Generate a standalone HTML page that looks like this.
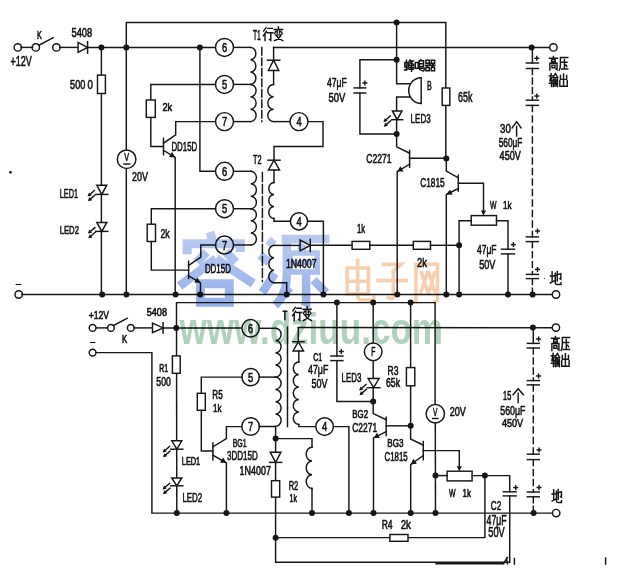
<!DOCTYPE html>
<html><head><meta charset="utf-8"><style>
html,body{margin:0;padding:0;background:#fff;}
svg{display:block;}
.c path,.c circle,.c rect{stroke:#161616;stroke-width:1.45;fill:none;stroke-linecap:square;}
.c .f{fill:#161616;stroke:none;}
.c .w{fill:#fff;}
.c text{font-family:"Liberation Sans",sans-serif;font-weight:normal;fill:#111;stroke:#111;stroke-width:0.6px;}
</style></head><body>
<svg width="621" height="578" viewBox="0 0 621 578">
<defs><linearGradient id="gb" gradientUnits="userSpaceOnUse" x1="0" y1="0" x2="0" y2="10"><stop offset="0" stop-color="#bccdf2"/><stop offset="1" stop-color="#93afe8"/></linearGradient></defs>
<rect width="621" height="578" fill="#fff"/>
<g class="c">
<circle cx="17.8" cy="47.4" r="3.7" class="w"/>
<circle cx="35.8" cy="47.4" r="3.7" class="w"/>
<circle cx="56.4" cy="47.4" r="3.7" class="w"/>
<path d="M21.0,47.4 L32.6,47.4"/>
<path d="M39.4,44.9 L53.2,37.7"/>
<path d="M59.6,47.4 L79.0,47.4"/>
<path d="M78.1,42.4 L78.1,52.4 L87.6,47.4 Z" class="w"/>
<path d="M87.6,41.6 L87.6,53.2"/>
<path d="M87.5,47.4 L215.5,47.4"/>
<circle cx="101.4" cy="47.4" r="3.0" class="f"/>
<circle cx="126.3" cy="47.4" r="3.0" class="f"/>
<circle cx="199.9" cy="47.4" r="3.0" class="f"/>
<path d="M126.3,294.5 L126.3,22.5 L445.8,22.5 L445.8,158.4"/>
<circle cx="396.6" cy="22.5" r="3.0" class="f"/>
<path d="M101.4,47.4 L101.4,294.5"/>
<rect x="97.5" y="75.1" width="7.9" height="18.4" class="w"/>
<path d="M96.8,185.2 L106.8,185.2 L101.8,194.4 Z" class="w"/>
<path d="M95.8,194.4 L107.8,194.4"/>
<path d="M96.8,222.4 L106.8,222.4 L101.8,231.4 Z" class="w"/>
<path d="M95.8,231.4 L107.8,231.4"/>
<path d="M94.4,190.5 L89.0,195.2" stroke-width="1.3"/>
<path d="M87.5,196.5 L89.0,192.4 L91.7,195.6 Z" class="f"/>
<path d="M94.8,195.2 L89.4,199.9" stroke-width="1.3"/>
<path d="M87.9,201.2 L89.4,197.1 L92.1,200.3 Z" class="f"/>
<path d="M94.8,227.6 L89.4,232.3" stroke-width="1.3"/>
<path d="M87.9,233.6 L89.4,229.5 L92.1,232.7 Z" class="f"/>
<path d="M95.2,232.3 L89.8,237.0" stroke-width="1.3"/>
<path d="M88.3,238.3 L89.8,234.2 L92.5,237.4 Z" class="f"/>
<circle cx="126.6" cy="159.2" r="9.3" class="w"/>
<text x="124.2" y="161.2" font-size="11.03" textLength="4.8" lengthAdjust="spacingAndGlyphs" class="t">V</text>
<path d="M124.1,164.0 L129.6,164.0" stroke-width="1.3"/>
<path d="M215.5,84.4 L150.8,84.4 L150.8,146.4 L163.3,146.4"/>
<rect x="146.3" y="100.0" width="9.0" height="17.4" class="w"/>
<path d="M163.5,138.4 L163.5,154.8" stroke-width="2.0"/>
<path d="M163.5,143.2 L175.7,134.8 L175.7,121.6 L215.5,121.6"/>
<path d="M163.5,150.3 L175.2,157.4 L175.2,294.5"/>
<path d="M175.2,157.4 L168.9,157.1 L172.1,152.0 Z" class="f"/>
<path d="M199.9,47.4 L199.9,171.3 L215.5,171.3"/>
<path d="M233.5,47.4 L250.5,47.4"/>
<path d="M233.5,84.4 L250.5,84.4"/>
<path d="M233.5,121.6 L250.5,121.6"/>
<circle cx="224.5" cy="47.4" r="9" class="w"/>
<text x="221.9" y="52.0" font-size="13.53" textLength="5.2" lengthAdjust="spacingAndGlyphs" class="t">6</text>
<circle cx="224.5" cy="84.4" r="9" class="w"/>
<text x="221.9" y="89.0" font-size="13.53" textLength="5.2" lengthAdjust="spacingAndGlyphs" class="t">5</text>
<circle cx="224.5" cy="121.6" r="9" class="w"/>
<text x="221.9" y="126.2" font-size="13.53" textLength="5.2" lengthAdjust="spacingAndGlyphs" class="t">7</text>
<path d="M250.5,47.4 a5.6,6.17 0 0 1 0,12.33 a5.6,6.17 0 0 1 0,12.33 a5.6,6.17 0 0 1 0,12.33"/>
<path d="M250.5,84.4 a5.6,6.20 0 0 1 0,12.40 a5.6,6.20 0 0 1 0,12.40 a5.6,6.20 0 0 1 0,12.40"/>
<path d="M261.8,47.5 V121.6" stroke-dasharray="7.5,3" stroke-linecap="butt"/>
<path d="M273.6,47.4 L550.2,47.4"/>
<path d="M273.6,47.4 L273.6,60.5"/>
<path d="M268.4,70.4 L278.8,70.4 L273.6,60.2 Z" class="w"/>
<path d="M267.4,60.2 L279.8,60.2"/>
<path d="M273.6,70.4 L273.6,84.4"/>
<path d="M273.6,84.4 a5.8,6.20 0 0 0 0,12.40 a5.8,6.20 0 0 0 0,12.40 a5.8,6.20 0 0 0 0,12.40"/>
<path d="M273.6,121.6 L290.0,121.6"/>
<circle cx="299.0" cy="121.6" r="9" class="w"/>
<text x="296.4" y="126.2" font-size="13.53" textLength="5.2" lengthAdjust="spacingAndGlyphs" class="t">4</text>
<path d="M308.0,121.6 L323.0,121.6 L323.0,146.5 L274.0,146.5 L274.0,160.2"/>
<circle cx="531.6" cy="47.4" r="3.0" class="f"/>
<circle cx="553.4" cy="47.4" r="3.7" class="w"/>
<path d="M268.5,170.0 L279.5,170.0 L274.0,160.2 Z" class="w"/>
<path d="M268.0,160.2 L280.0,160.2"/>
<path d="M274.0,170.0 L274.0,182.5"/>
<path d="M274.0,182.5 a5.2,6.00 0 0 0 0,12.00 a5.2,6.00 0 0 0 0,12.00 a5.2,6.00 0 0 0 0,12.00"/>
<path d="M274.0,218.5 L274.0,221.3 L290.5,221.3"/>
<circle cx="299.0" cy="221.3" r="8.6" class="w"/>
<text x="296.4" y="225.9" font-size="13.53" textLength="5.2" lengthAdjust="spacingAndGlyphs" class="t">4</text>
<path d="M307.6,221.3 L323.4,221.3 L323.4,294.5"/>
<path d="M233.5,171.3 L250.8,171.3"/>
<path d="M233.5,208.7 L250.8,208.7"/>
<path d="M233.5,245.0 L250.8,245.0"/>
<circle cx="224.5" cy="171.3" r="9" class="w"/>
<text x="221.9" y="175.9" font-size="13.53" textLength="5.2" lengthAdjust="spacingAndGlyphs" class="t">6</text>
<circle cx="224.5" cy="208.7" r="9" class="w"/>
<text x="221.9" y="213.3" font-size="13.53" textLength="5.2" lengthAdjust="spacingAndGlyphs" class="t">5</text>
<circle cx="224.5" cy="245.0" r="9" class="w"/>
<text x="221.9" y="249.6" font-size="13.53" textLength="5.2" lengthAdjust="spacingAndGlyphs" class="t">7</text>
<path d="M250.8,171.3 a5.6,6.23 0 0 1 0,12.47 a5.6,6.23 0 0 1 0,12.47 a5.6,6.23 0 0 1 0,12.47"/>
<path d="M250.8,208.7 a5.6,6.05 0 0 1 0,12.10 a5.6,6.05 0 0 1 0,12.10 a5.6,6.05 0 0 1 0,12.10"/>
<path d="M262.4,172.4 V281.6" stroke-dasharray="9,3" stroke-linecap="butt"/>
<path d="M215.5,208.7 L151.3,208.7 L151.3,270.1 L188.6,270.1"/>
<rect x="147.2" y="224.2" width="8.3" height="17.3" class="w"/>
<path d="M188.6,261.3 L188.6,278.4" stroke-width="2.0"/>
<path d="M188.6,265.4 L200.8,257.1 L200.8,245.0 L215.5,245.0"/>
<path d="M188.6,275.8 L200.5,282.8 L200.5,294.5"/>
<path d="M200.5,282.8 L194.2,282.6 L197.3,277.4 Z" class="f"/>
<path d="M274.0,245.4 L300.4,245.4"/>
<path d="M274.0,245.4 a5.4,6.22 0 0 0 0,12.43 a5.4,6.22 0 0 0 0,12.43 a5.4,6.22 0 0 0 0,12.43"/>
<path d="M274.0,282.7 L286.7,282.7 L286.7,294.5"/>
<path d="M300.1,240.0 L300.1,250.8 L310.3,245.4 Z" class="w"/>
<path d="M310.3,239.4 L310.3,251.4"/>
<path d="M310.3,245.3 L352.1,245.3"/>
<rect x="352.1" y="241.4" width="17.7" height="7.9" class="w"/>
<path d="M369.8,245.3 L413.3,245.3"/>
<rect x="413.3" y="241.4" width="17.2" height="7.9" class="w"/>
<path d="M430.5,245.3 L459.1,245.3"/>
<circle cx="459.1" cy="245.3" r="3.0" class="f"/>
<path d="M396.6,22.5 L396.6,83.7 L410.5,83.7"/>
<circle cx="396.6" cy="59.8" r="3.0" class="f"/>
<path d="M396.6,59.8 L359.9,59.8 L359.9,87.9"/>
<path d="M354.1,87.9 L365.7,87.9" stroke-width="1.7"/>
<path d="M354.1,93.0 L365.7,93.0" stroke-width="1.7"/>
<path d="M363.1,83.0 L366.7,83.0" stroke-width="1"/>
<path d="M364.9,81.2 L364.9,84.8" stroke-width="1"/>
<path d="M359.9,93.0 L359.9,134.0 L396.6,134.0"/>
<path d="M421.2,77.8 A12.5,12.8 0 0 0 421.2,103.4 Z" class="w"/>
<path d="M410.2,96.9 L396.6,96.9 L396.6,110.9"/>
<path d="M392.4,110.9 L402.0,110.9 L397.2,119.7 Z" class="w"/>
<path d="M391.7,119.7 L402.7,119.7"/>
<path d="M390.3,116.0 L384.9,120.7" stroke-width="1.3"/>
<path d="M383.4,122.0 L384.9,117.9 L387.6,121.1 Z" class="f"/>
<path d="M390.7,120.7 L385.3,125.4" stroke-width="1.3"/>
<path d="M383.8,126.7 L385.3,122.6 L388.0,125.8 Z" class="f"/>
<path d="M396.6,119.9 L396.6,146.8 L409.6,153.2"/>
<circle cx="396.6" cy="134.0" r="3.0" class="f"/>
<path d="M409.6,150.4 L409.6,167.2" stroke-width="2.0"/>
<path d="M409.6,158.3 L446.3,158.3"/>
<path d="M409.6,164.2 L397.2,171.6 L397.2,294.5"/>
<path d="M397.2,171.6 L400.4,166.2 L403.5,171.4 Z" class="f"/>
<circle cx="446.3" cy="158.4" r="3.0" class="f"/>
<rect x="442.2" y="88.0" width="7.6" height="17.4" class="w"/>
<path d="M446.3,158.4 L446.3,171.1 L458.3,177.8"/>
<path d="M458.3,175.2 L458.3,191.1" stroke-width="2.0"/>
<path d="M458.3,183.3 L483.5,183.3 L483.5,212.0"/>
<path d="M483.5,215.6 L480.9,210.6 L486.1,210.6 Z" class="f"/>
<path d="M458.3,188.5 L446.3,194.5 L446.3,294.5"/>
<path d="M446.3,194.5 L449.9,189.4 L452.6,194.7 Z" class="f"/>
<rect x="471.2" y="215.6" width="25.3" height="9.6" class="w"/>
<path d="M471.2,220.8 L459.1,220.8 L459.1,294.5"/>
<path d="M496.5,220.8 L508.0,220.8 L508.0,249.2"/>
<path d="M501.5,249.2 L514.5,249.2" stroke-width="1.7"/>
<path d="M501.5,253.9 L514.5,253.9" stroke-width="1.7"/>
<path d="M511.6,244.6 L515.2,244.6" stroke-width="1"/>
<path d="M513.4,242.8 L513.4,246.4" stroke-width="1"/>
<path d="M508.0,253.9 L508.0,294.5"/>
<circle cx="18.7" cy="294.5" r="3.7" class="w"/>
<path d="M21.9,294.5 L552.8,294.5"/>
<circle cx="556.0" cy="294.5" r="3.7" class="w"/>
<circle cx="102.2" cy="294.5" r="3.0" class="f"/>
<circle cx="126.4" cy="294.5" r="3.0" class="f"/>
<circle cx="175.6" cy="294.5" r="3.0" class="f"/>
<circle cx="200.2" cy="294.5" r="3.0" class="f"/>
<circle cx="286.7" cy="294.5" r="3.0" class="f"/>
<circle cx="323.4" cy="294.5" r="3.0" class="f"/>
<circle cx="397.3" cy="294.5" r="3.0" class="f"/>
<circle cx="446.3" cy="294.5" r="3.0" class="f"/>
<circle cx="459.1" cy="294.5" r="3.0" class="f"/>
<circle cx="508.0" cy="294.5" r="3.0" class="f"/>
<circle cx="532.6" cy="294.5" r="3.0" class="f"/>
<path d="M532.4,47.4 L532.4,63.0"/>
<path d="M526.4,63.0 L538.4,63.0" stroke-width="1.7"/>
<path d="M526.4,68.5 L538.4,68.5" stroke-width="1.7"/>
<path d="M535.0,58.3 L538.6,58.3" stroke-width="1"/>
<path d="M536.8,56.5 L536.8,60.1" stroke-width="1"/>
<path d="M532.4,68.5 V100.2" stroke-dasharray="6,3.5" stroke-linecap="butt"/>
<path d="M526.4,100.2 L538.4,100.2" stroke-width="1.7"/>
<path d="M526.4,105.4 L538.4,105.4" stroke-width="1.7"/>
<path d="M535.0,96.0 L538.6,96.0" stroke-width="1"/>
<path d="M536.8,94.2 L536.8,97.8" stroke-width="1"/>
<path d="M532.4,105.4 V236.9" stroke-dasharray="6,4.5" stroke-linecap="butt"/>
<path d="M526.4,236.9 L538.4,236.9" stroke-width="1.7"/>
<path d="M526.4,241.6 L538.4,241.6" stroke-width="1.7"/>
<path d="M535.7,231.0 L539.3,231.0" stroke-width="1"/>
<path d="M537.5,229.2 L537.5,232.8" stroke-width="1"/>
<path d="M532.4,241.6 V274.4" stroke-dasharray="6,4" stroke-linecap="butt"/>
<path d="M526.4,274.4 L538.4,274.4" stroke-width="1.7"/>
<path d="M526.4,278.6 L538.4,278.6" stroke-width="1.7"/>
<path d="M535.7,269.4 L539.3,269.4" stroke-width="1"/>
<path d="M537.5,267.6 L537.5,271.2" stroke-width="1"/>
<path d="M532.4,278.6 V294.5" stroke-dasharray="6,3.5" stroke-linecap="butt"/>
<circle cx="92.6" cy="327.9" r="3.4" class="w"/>
<circle cx="110.9" cy="327.9" r="3.4" class="w"/>
<circle cx="130.8" cy="327.9" r="3.4" class="w"/>
<path d="M96.0,327.9 L107.5,327.9"/>
<path d="M113.6,325.4 L127.3,318.2"/>
<path d="M134.2,327.9 L152.5,327.9"/>
<path d="M152.5,323.2 L152.5,332.6 L163.1,327.9 Z" class="w"/>
<path d="M163.1,322.7 L163.1,333.1"/>
<path d="M163.1,327.9 L241.8,327.9"/>
<circle cx="176.3" cy="327.9" r="3.0" class="f"/>
<circle cx="92.6" cy="352.6" r="3.4" class="w"/>
<path d="M96.0,352.6 L151.9,352.6 L151.9,513.1 L552.9,513.1"/>
<circle cx="556.2" cy="513.1" r="3.7" class="w"/>
<path d="M176.5,327.9 L176.5,302.6 L435.1,302.6 L435.1,404.5"/>
<circle cx="336.9" cy="302.6" r="3.0" class="f"/>
<circle cx="373.2" cy="302.6" r="3.0" class="f"/>
<circle cx="410.6" cy="302.6" r="3.0" class="f"/>
<path d="M176.5,327.9 L176.8,513.1"/>
<rect x="172.4" y="355.9" width="7.8" height="17.4" class="w"/>
<path d="M171.8,440.8 L181.8,440.8 L176.8,449.2 Z" class="w"/>
<path d="M170.8,449.2 L182.8,449.2"/>
<path d="M171.8,477.9 L181.8,477.9 L176.8,485.8 Z" class="w"/>
<path d="M170.8,485.8 L182.8,485.8"/>
<path d="M169.5,446.5 L164.1,451.2" stroke-width="1.3"/>
<path d="M162.6,452.5 L164.1,448.4 L166.8,451.6 Z" class="f"/>
<path d="M169.9,451.2 L164.5,455.9" stroke-width="1.3"/>
<path d="M163.0,457.2 L164.5,453.1 L167.2,456.3 Z" class="f"/>
<path d="M169.5,483.5 L164.1,488.2" stroke-width="1.3"/>
<path d="M162.6,489.5 L164.1,485.4 L166.8,488.6 Z" class="f"/>
<path d="M169.9,488.2 L164.5,492.9" stroke-width="1.3"/>
<path d="M163.0,494.2 L164.5,490.1 L167.2,493.3 Z" class="f"/>
<circle cx="250.6" cy="328.3" r="8.7" class="w"/>
<text x="248.0" y="332.9" font-size="13.53" textLength="5.2" lengthAdjust="spacingAndGlyphs" class="t">6</text>
<circle cx="250.6" cy="377.1" r="8.7" class="w"/>
<text x="248.0" y="381.7" font-size="13.53" textLength="5.2" lengthAdjust="spacingAndGlyphs" class="t">5</text>
<circle cx="250.6" cy="426.5" r="8.8" class="w"/>
<text x="248.0" y="431.1" font-size="13.53" textLength="5.2" lengthAdjust="spacingAndGlyphs" class="t">7</text>
<path d="M259.3,328.3 L275.5,328.3"/>
<path d="M259.3,377.1 L275.5,377.1"/>
<path d="M275.5,328.3 a5.6,6.10 0 0 1 0,12.20 a5.6,6.10 0 0 1 0,12.20 a5.6,6.10 0 0 1 0,12.20 a5.6,6.10 0 0 1 0,12.20"/>
<path d="M275.5,377.1 a5.6,6.16 0 0 1 0,12.32 a5.6,6.16 0 0 1 0,12.32 a5.6,6.16 0 0 1 0,12.32 a5.6,6.16 0 0 1 0,12.32"/>
<path d="M287.5,327.0 L287.5,426.6" stroke-width="1.2"/>
<path d="M298.3,327.5 L552.4,327.7"/>
<path d="M298.3,327.9 L298.3,341.7"/>
<path d="M293.1,350.9 L303.5,350.9 L298.3,341.7 Z" class="w"/>
<path d="M292.5,341.7 L304.1,341.7"/>
<path d="M298.8,350.9 L298.8,362.0"/>
<path d="M298.8,362.0 a5.5,6.24 0 0 0 0,12.48 a5.5,6.24 0 0 0 0,12.48 a5.5,6.24 0 0 0 0,12.48 a5.5,6.24 0 0 0 0,12.48 a5.5,6.24 0 0 0 0,12.48"/>
<path d="M298.8,424.4 L298.8,426.6 L315.8,426.6"/>
<circle cx="324.6" cy="426.6" r="8.8" class="w"/>
<text x="322.0" y="431.2" font-size="13.53" textLength="5.2" lengthAdjust="spacingAndGlyphs" class="t">4</text>
<path d="M333.4,426.6 L348.9,426.6 L348.9,513.1"/>
<circle cx="532.9" cy="327.6" r="3.0" class="f"/>
<circle cx="555.9" cy="327.6" r="3.7" class="w"/>
<path d="M241.9,377.1 L201.3,377.1 L201.3,450.9 L212.8,450.9"/>
<rect x="197.3" y="393.3" width="8.0" height="17.0" class="w"/>
<path d="M212.9,442.9 L212.9,459.7" stroke-width="2.0"/>
<path d="M212.9,446.8 L226.4,438.7 L226.4,426.6 L241.8,426.6"/>
<path d="M212.9,455.2 L226.4,462.8 L226.4,513.1"/>
<path d="M226.4,462.8 L220.1,462.7 L223.1,457.5 Z" class="f"/>
<path d="M259.4,426.5 L275.6,426.5 L275.6,562.2 L509.7,562.2 L509.7,495.9"/>
<circle cx="275.6" cy="438.6" r="3.0" class="f"/>
<path d="M270.3,452.3 L280.9,452.3 L275.6,462.4 Z" class="w"/>
<path d="M269.6,462.4 L281.6,462.4"/>
<rect x="271.5" y="480.7" width="8.2" height="16.4" class="w"/>
<circle cx="275.6" cy="537.8" r="3.0" class="f"/>
<path d="M275.6,438.6 L312.0,438.6 L312.0,447.3"/>
<path d="M312.0,447.3 a5.8,6.85 0 0 0 0,13.70 a5.8,6.85 0 0 0 0,13.70 a5.8,6.85 0 0 0 0,13.70"/>
<path d="M312.0,488.4 L312.0,513.1"/>
<path d="M275.6,537.6 L484.9,537.6 L484.9,475.6"/>
<rect x="389.9" y="534.5" width="18.1" height="6.8" class="w"/>
<path d="M336.9,302.6 L336.9,356.0"/>
<path d="M330.9,356.0 L342.9,356.0" stroke-width="1.7"/>
<path d="M330.9,360.6 L342.9,360.6" stroke-width="1.7"/>
<path d="M339.5,351.5 L343.1,351.5" stroke-width="1"/>
<path d="M341.3,349.7 L341.3,353.3" stroke-width="1"/>
<path d="M336.9,360.6 L336.9,401.5 L373.2,401.5"/>
<path d="M373.2,302.6 L373.2,343.0"/>
<circle cx="373.2" cy="351.8" r="8.8" class="w"/>
<text x="371.2" y="356.0" font-size="12.35" textLength="4.2" lengthAdjust="spacingAndGlyphs" class="t">F</text>
<path d="M373.2,360.6 L373.2,378.5"/>
<path d="M368.1,378.5 L379.1,378.5 L373.6,387.7 Z" class="w"/>
<path d="M367.3,387.7 L379.9,387.7"/>
<path d="M366.0,384.5 L360.6,389.2" stroke-width="1.3"/>
<path d="M359.1,390.5 L360.6,386.4 L363.3,389.6 Z" class="f"/>
<path d="M366.4,389.2 L361.0,393.9" stroke-width="1.3"/>
<path d="M359.5,395.2 L361.0,391.1 L363.7,394.3 Z" class="f"/>
<path d="M373.2,387.7 L373.2,413.6 L386.2,419.7"/>
<circle cx="373.2" cy="401.5" r="3.0" class="f"/>
<path d="M386.2,417.3 L386.2,435.5" stroke-width="2.0"/>
<path d="M386.2,425.8 L410.7,425.8"/>
<path d="M386.2,431.6 L373.5,437.9 L373.5,513.1"/>
<path d="M373.5,437.9 L377.1,432.8 L379.8,438.1 Z" class="f"/>
<path d="M410.6,302.6 L410.6,439.0 L423.3,445.2"/>
<rect x="406.4" y="367.6" width="8.4" height="18.2" class="w"/>
<circle cx="410.7" cy="425.8" r="3.0" class="f"/>
<path d="M423.3,441.5 L423.3,459.7" stroke-width="2.0"/>
<path d="M423.3,450.6 L459.3,450.6 L459.3,467.0"/>
<path d="M459.3,471.2 L456.7,466.2 L461.9,466.2 Z" class="f"/>
<path d="M423.3,455.4 L410.7,464.5 L410.7,513.1"/>
<path d="M410.7,464.5 L413.4,458.8 L416.9,463.7 Z" class="f"/>
<circle cx="435.3" cy="413.7" r="9.2" class="w"/>
<text x="432.9" y="415.8" font-size="11.32" textLength="4.4" lengthAdjust="spacingAndGlyphs" class="t">V</text>
<path d="M432.6,418.5 L437.9,418.5" stroke-width="1.3"/>
<path d="M435.3,422.9 L435.5,513.1"/>
<circle cx="435.5" cy="475.6" r="3.0" class="f"/>
<rect x="447.1" y="471.2" width="25.0" height="9.7" class="w"/>
<path d="M435.5,475.6 L447.1,475.6"/>
<path d="M472.1,475.6 L509.7,475.6 L509.7,491.8"/>
<circle cx="484.9" cy="475.6" r="3.0" class="f"/>
<path d="M503.3,491.8 L516.1,491.8" stroke-width="1.7"/>
<path d="M503.3,495.9 L516.1,495.9" stroke-width="1.7"/>
<path d="M513.9,487.6 L517.5,487.6" stroke-width="1"/>
<path d="M515.7,485.8 L515.7,489.4" stroke-width="1"/>
<circle cx="176.8" cy="513.1" r="3.0" class="f"/>
<circle cx="226.4" cy="513.1" r="3.0" class="f"/>
<circle cx="312.0" cy="513.1" r="3.0" class="f"/>
<circle cx="348.9" cy="513.1" r="3.0" class="f"/>
<circle cx="373.5" cy="513.1" r="3.0" class="f"/>
<circle cx="410.7" cy="513.1" r="3.0" class="f"/>
<circle cx="435.5" cy="513.1" r="3.0" class="f"/>
<circle cx="533.6" cy="513.1" r="3.0" class="f"/>
<path d="M533.3,327.6 L533.3,343.4"/>
<path d="M527.3,343.4 L539.3,343.4" stroke-width="1.7"/>
<path d="M527.3,348.0 L539.3,348.0" stroke-width="1.7"/>
<path d="M536.8,339.0 L540.4,339.0" stroke-width="1"/>
<path d="M538.6,337.2 L538.6,340.8" stroke-width="1"/>
<path d="M533.3,348 V380.6" stroke-dasharray="6,4" stroke-linecap="butt"/>
<path d="M527.3,380.6 L539.3,380.6" stroke-width="1.7"/>
<path d="M527.3,384.9 L539.3,384.9" stroke-width="1.7"/>
<path d="M536.8,376.0 L540.4,376.0" stroke-width="1"/>
<path d="M538.6,374.2 L538.6,377.8" stroke-width="1"/>
<path d="M533.3,384.9 V454.2" stroke-dasharray="6,4.5" stroke-linecap="butt"/>
<path d="M527.3,454.2 L539.3,454.2" stroke-width="1.7"/>
<path d="M527.3,459.6 L539.3,459.6" stroke-width="1.7"/>
<path d="M537.2,449.9 L540.8,449.9" stroke-width="1"/>
<path d="M539.0,448.1 L539.0,451.7" stroke-width="1"/>
<path d="M533.3,459.6 V492" stroke-dasharray="6,4" stroke-linecap="butt"/>
<path d="M527.3,492.0 L539.3,492.0" stroke-width="1.7"/>
<path d="M527.3,496.8 L539.3,496.8" stroke-width="1.7"/>
<path d="M537.2,487.5 L540.8,487.5" stroke-width="1"/>
<path d="M539.0,485.7 L539.0,489.3" stroke-width="1"/>
<path d="M533.3,496.8 V513.1" stroke-dasharray="6,3.5" stroke-linecap="butt"/>
<path d="M436,563.8 H504" stroke="#2a3050" stroke-width="2.6" stroke-dasharray="3.2,1.4" stroke-linecap="butt"/>
<path d="M503.5,563.5 L507.5,557.5 M506.5,558 L507.5,564" stroke-width="1.4"/>
<path d="M514.4,558.5 V564" stroke-width="1"/>
<circle cx="10.5" cy="172.3" r="0.7" fill="#888" stroke="none"/>
<path d="M605.6,558 V564" stroke="#aaa" stroke-width="1"/>
<text x="37.1" y="38.6" font-size="10.59" textLength="4.8" lengthAdjust="spacingAndGlyphs" class="t">K</text>
<text x="71.5" y="36.5" font-size="11.91" textLength="20.7" lengthAdjust="spacingAndGlyphs" class="t">5408</text>
<text x="10.4" y="66.3" font-size="13.97" textLength="21.4" lengthAdjust="spacingAndGlyphs" class="t">+12V</text>
<text x="70.1" y="89.2" font-size="12.79" textLength="15.2" lengthAdjust="spacingAndGlyphs" class="t">500</text>
<text x="87.5" y="89.2" font-size="12.79" textLength="5.4" lengthAdjust="spacingAndGlyphs" class="t">0</text>
<text x="132.1" y="180.6" font-size="13.24" textLength="15.9" lengthAdjust="spacingAndGlyphs" class="t">20V</text>
<text x="59.7" y="197.6" font-size="13.09" textLength="18.3" lengthAdjust="spacingAndGlyphs" class="t">LED1</text>
<text x="59.7" y="234.0" font-size="11.76" textLength="19.3" lengthAdjust="spacingAndGlyphs" class="t">LED2</text>
<text x="162.5" y="110.5" font-size="10.74" textLength="9.7" lengthAdjust="spacingAndGlyphs" class="t">2k</text>
<text x="171.4" y="151.2" font-size="13.24" textLength="25.8" lengthAdjust="spacingAndGlyphs" class="t">DD15D</text>
<text x="253.0" y="39.5" font-size="13.97" textLength="7.8" lengthAdjust="spacingAndGlyphs" class="t">T1</text>
<path d="M3.2,0.5 L0.8,3 M3.6,3.2 L0.5,6.5 M2.2,5 V10 M5,1 H9.5 M4.5,4.2 H10 M8,4.2 V9.8 L6.8,9.2" transform="translate(262.8,27.0) scale(1.000,1.360)" vector-effect="non-scaling-stroke" stroke-width="1.7"/>
<path d="M5,0 V1.5 M0.8,1.8 H9.2 M3.8,1.8 V4.5 M6.2,1.8 V4.5 M2.3,3.3 L1.2,4.8 M7.7,3.3 L8.8,4.8 M2.2,5.8 H7.8 Q5.5,9 1,10 M3.2,6.6 Q5.5,9 9.4,10" transform="translate(273.4,27.0) scale(1.000,1.360)" vector-effect="non-scaling-stroke" stroke-width="1.7"/>
<text x="253.0" y="164.2" font-size="12.06" textLength="8.5" lengthAdjust="spacingAndGlyphs" class="t">T2</text>
<text x="160.5" y="237.6" font-size="13.68" textLength="9.2" lengthAdjust="spacingAndGlyphs" class="t">2k</text>
<text x="204.9" y="273.2" font-size="12.21" textLength="26.0" lengthAdjust="spacingAndGlyphs" class="t">DD15D</text>
<text x="285.9" y="267.5" font-size="11.91" textLength="30.6" lengthAdjust="spacingAndGlyphs" class="t">1N4007</text>
<text x="356.9" y="232.9" font-size="11.91" textLength="8.1" lengthAdjust="spacingAndGlyphs" class="t">1k</text>
<text x="417.0" y="266.7" font-size="13.09" textLength="10.0" lengthAdjust="spacingAndGlyphs" class="t">2k</text>
<text x="366.2" y="162.8" font-size="13.09" textLength="25.3" lengthAdjust="spacingAndGlyphs" class="t">C2271</text>
<text x="420.2" y="186.7" font-size="13.09" textLength="24.5" lengthAdjust="spacingAndGlyphs" class="t">C1815</text>
<text x="490.0" y="208.5" font-size="11.03" textLength="6.5" lengthAdjust="spacingAndGlyphs" class="t">W</text>
<text x="503.0" y="208.5" font-size="11.03" textLength="8.6" lengthAdjust="spacingAndGlyphs" class="t">1k</text>
<text x="477.0" y="254.0" font-size="12.79" textLength="19.5" lengthAdjust="spacingAndGlyphs" class="t">47μF</text>
<text x="479.2" y="269.0" font-size="12.65" textLength="16.2" lengthAdjust="spacingAndGlyphs" class="t">50V</text>
<text x="327.0" y="87.0" font-size="13.24" textLength="19.7" lengthAdjust="spacingAndGlyphs" class="t">47μF</text>
<text x="328.5" y="102.4" font-size="13.24" textLength="16.9" lengthAdjust="spacingAndGlyphs" class="t">50V</text>
<path d="M0.5,2.5 H4 V6.5 H0.5 Z M2.25,0.5 V9 M0.3,9 L4.2,8 M6,0.3 L4.8,2 M5.5,1.2 H9 L5,4.3 M6.5,2.5 L9.8,4.3 M5.3,5.2 H9.5 M5,6.8 H9.8 M5.3,8.3 H9.5 M7.4,4.5 V10" transform="translate(404.3,59.6) scale(0.973,1.160)" vector-effect="non-scaling-stroke" stroke-width="2.0"/>
<path d="M0.5,2.5 H3.5 V7.5 H0.5 Z M6.2,0 L5.6,1 M4.5,1 H9 V6 H4.5 Z M4.5,3.5 H9 M4.5,6 V7.5 H9.8 Q9.8,10 8.3,9.8 M5.2,8.5 L7,9.2" transform="translate(414.8,59.6) scale(0.973,1.160)" vector-effect="non-scaling-stroke" stroke-width="2.0"/>
<path d="M0.5,0.5 H4 V3.2 H0.5 Z M6,0.5 H9.5 V3.2 H6 Z M0.5,6.8 H4 V9.6 H0.5 Z M6,6.8 H9.5 V9.6 H6 Z M0.3,4.8 H9.7 M5,3.5 L1,6.5 M5,4.8 L9,6.5 M7.3,3.6 L8.2,4.3" transform="translate(425.4,59.6) scale(0.973,1.160)" vector-effect="non-scaling-stroke" stroke-width="2.0"/>
<text x="427.0" y="90.3" font-size="12.94" textLength="4.8" lengthAdjust="spacingAndGlyphs" class="t">B</text>
<text x="410.6" y="123.4" font-size="12.94" textLength="20.1" lengthAdjust="spacingAndGlyphs" class="t">LED3</text>
<text x="458.0" y="101.7" font-size="14.12" textLength="14.4" lengthAdjust="spacingAndGlyphs" class="t">65k</text>
<path d="M5,0 V1.2 M0.5,1.3 H9.5 M3,2.3 H7 V4 H3 Z M1,5 V10 M1,5 H9 V9.7 L8,9.3 M3.3,6.4 H6.7 V8.4 H3.3 Z" transform="translate(549.0,56.4) scale(0.890,1.360)" vector-effect="non-scaling-stroke" stroke-width="2.0"/>
<path d="M1.5,0.8 H9.7 M1.5,0.8 V6 Q1.3,9 0.2,10 M3.2,4.3 H8.8 M6,2.2 V9.3 M2.8,9.3 H9.7 M7.6,6.3 L8.6,7.4" transform="translate(559.1,56.4) scale(0.890,1.360)" vector-effect="non-scaling-stroke" stroke-width="2.0"/>
<path d="M0.3,1.8 H4 M2.5,0 L1,5.5 H4 M2.8,3.2 V10 M0.3,7.5 H4.3 M7.2,0 L4.6,3 M7.2,0 L9.8,3 M5.6,3.3 H8.7 M4.9,4.5 H6.8 V9.8 M4.9,4.5 V10 M4.9,6 H6.8 M4.9,7.6 H6.8 M8,5 V8.2 M9.5,4.3 V9.8 L8.8,9.5" transform="translate(549.0,73.5) scale(0.890,1.310)" vector-effect="non-scaling-stroke" stroke-width="2.0"/>
<path d="M5,0.3 V9.7 M1.5,1.5 V4.5 H8.5 V1.5 M0.8,5.5 V9.7 H9.2 V5.5" transform="translate(559.1,73.5) scale(0.890,1.310)" vector-effect="non-scaling-stroke" stroke-width="2.0"/>
<text x="500.0" y="132.5" font-size="12.79" textLength="10.8" lengthAdjust="spacingAndGlyphs" class="t">30</text>
<path d="M5,0.3 L0.5,4.5 M5,0.3 L9.5,4.5 M5,3.5 V10" transform="translate(511.6,121.3) scale(1.000,1.460)" vector-effect="non-scaling-stroke" stroke-width="1.6"/>
<text x="498.7" y="146.7" font-size="13.53" textLength="23.7" lengthAdjust="spacingAndGlyphs" class="t">560μF</text>
<text x="499.6" y="160.4" font-size="12.21" textLength="21.2" lengthAdjust="spacingAndGlyphs" class="t">450V</text>
<path d="M1.8,1 V8 M0.2,4 H3.6 M0.2,8.8 L3.8,7.4 M4.4,3.4 L9.6,2.4 V6.2 L8.8,5.8 M6.4,0.8 V7.5 M4.6,2 V8.6 Q4.6,9.8 6,9.8 H9.7 V8.6" transform="translate(550.1,270.2) scale(1.120,1.450)" vector-effect="non-scaling-stroke" stroke-width="2.0"/>
<circle cx="544.4" cy="278.5" r="0.6" class="f"/>
<text x="16.0" y="286.0" font-size="7.35" textLength="5.0" lengthAdjust="spacingAndGlyphs" class="t">–</text>
<text x="88.7" y="319.2" font-size="11.47" textLength="20.3" lengthAdjust="spacingAndGlyphs" class="t">+12V</text>
<text x="122.1" y="343.3" font-size="10.00" textLength="5.2" lengthAdjust="spacingAndGlyphs" class="t">K</text>
<text x="90.2" y="344.0" font-size="7.35" textLength="4.8" lengthAdjust="spacingAndGlyphs" class="t">–</text>
<text x="146.7" y="316.3" font-size="11.47" textLength="20.3" lengthAdjust="spacingAndGlyphs" class="t">5408</text>
<text x="159.2" y="372.3" font-size="11.32" textLength="8.8" lengthAdjust="spacingAndGlyphs" class="t">R1</text>
<text x="156.3" y="385.8" font-size="12.79" textLength="14.5" lengthAdjust="spacingAndGlyphs" class="t">500</text>
<path d="M283.2,311.3 L286.8,311.3" stroke-width="1.0"/>
<path d="M284.9,311.3 L284.9,319.5" stroke-width="1.1"/>
<path d="M3.2,0.5 L0.8,3 M3.6,3.2 L0.5,6.5 M2.2,5 V10 M5,1 H9.5 M4.5,4.2 H10 M8,4.2 V9.8 L6.8,9.2" transform="translate(292.1,306.8) scale(0.960,1.370)" vector-effect="non-scaling-stroke" stroke-width="1.6"/>
<path d="M5,0 V1.5 M0.8,1.8 H9.2 M3.8,1.8 V4.5 M6.2,1.8 V4.5 M2.3,3.3 L1.2,4.8 M7.7,3.3 L8.8,4.8 M2.2,5.8 H7.8 Q5.5,9 1,10 M3.2,6.6 Q5.5,9 9.4,10" transform="translate(302.3,306.8) scale(0.960,1.370)" vector-effect="non-scaling-stroke" stroke-width="1.6"/>
<text x="212.3" y="399.4" font-size="12.35" textLength="10.4" lengthAdjust="spacingAndGlyphs" class="t">R5</text>
<text x="213.0" y="411.5" font-size="11.32" textLength="8.5" lengthAdjust="spacingAndGlyphs" class="t">1k</text>
<text x="181.8" y="464.9" font-size="10.74" textLength="18.4" lengthAdjust="spacingAndGlyphs" class="t">LED1</text>
<text x="182.4" y="501.5" font-size="12.21" textLength="19.9" lengthAdjust="spacingAndGlyphs" class="t">LED2</text>
<text x="232.7" y="446.5" font-size="11.47" textLength="14.0" lengthAdjust="spacingAndGlyphs" class="t">BG1</text>
<text x="227.0" y="459.7" font-size="12.35" textLength="30.8" lengthAdjust="spacingAndGlyphs" class="t">3DD15D</text>
<text x="239.6" y="475.0" font-size="12.35" textLength="31.4" lengthAdjust="spacingAndGlyphs" class="t">1N4007</text>
<text x="288.7" y="489.7" font-size="12.06" textLength="9.6" lengthAdjust="spacingAndGlyphs" class="t">R2</text>
<text x="289.5" y="502.0" font-size="10.00" textLength="7.4" lengthAdjust="spacingAndGlyphs" class="t">1k</text>
<text x="313.3" y="360.6" font-size="11.18" textLength="8.8" lengthAdjust="spacingAndGlyphs" class="t">C1</text>
<text x="308.0" y="374.2" font-size="12.94" textLength="20.3" lengthAdjust="spacingAndGlyphs" class="t">47μF</text>
<text x="311.5" y="387.5" font-size="12.94" textLength="16.0" lengthAdjust="spacingAndGlyphs" class="t">50V</text>
<text x="341.6" y="382.1" font-size="12.50" textLength="19.9" lengthAdjust="spacingAndGlyphs" class="t">LED3</text>
<text x="387.5" y="374.8" font-size="12.35" textLength="10.9" lengthAdjust="spacingAndGlyphs" class="t">R3</text>
<text x="386.0" y="386.8" font-size="11.91" textLength="14.0" lengthAdjust="spacingAndGlyphs" class="t">65k</text>
<text x="352.3" y="418.0" font-size="11.62" textLength="15.8" lengthAdjust="spacingAndGlyphs" class="t">BG2</text>
<text x="352.3" y="431.5" font-size="12.50" textLength="24.8" lengthAdjust="spacingAndGlyphs" class="t">C2271</text>
<text x="387.3" y="447.3" font-size="11.62" textLength="16.3" lengthAdjust="spacingAndGlyphs" class="t">BG3</text>
<text x="384.5" y="460.9" font-size="12.50" textLength="23.1" lengthAdjust="spacingAndGlyphs" class="t">C1815</text>
<text x="449.8" y="415.7" font-size="12.35" textLength="16.1" lengthAdjust="spacingAndGlyphs" class="t">20V</text>
<text x="449.0" y="496.6" font-size="10.59" textLength="6.5" lengthAdjust="spacingAndGlyphs" class="t">W</text>
<text x="462.5" y="496.6" font-size="10.59" textLength="8.4" lengthAdjust="spacingAndGlyphs" class="t">1k</text>
<text x="490.8" y="510.0" font-size="12.50" textLength="10.4" lengthAdjust="spacingAndGlyphs" class="t">C2</text>
<text x="486.6" y="524.5" font-size="14.26" textLength="20.1" lengthAdjust="spacingAndGlyphs" class="t">47μF</text>
<text x="488.3" y="536.6" font-size="14.26" textLength="16.5" lengthAdjust="spacingAndGlyphs" class="t">50V</text>
<text x="381.7" y="528.8" font-size="12.79" textLength="10.9" lengthAdjust="spacingAndGlyphs" class="t">R4</text>
<text x="400.7" y="528.8" font-size="12.79" textLength="10.3" lengthAdjust="spacingAndGlyphs" class="t">2k</text>
<path d="M5,0 V1.2 M0.5,1.3 H9.5 M3,2.3 H7 V4 H3 Z M1,5 V10 M1,5 H9 V9.7 L8,9.3 M3.3,6.4 H6.7 V8.4 H3.3 Z" transform="translate(551.0,336.4) scale(0.880,1.410)" vector-effect="non-scaling-stroke" stroke-width="2.0"/>
<path d="M1.5,0.8 H9.7 M1.5,0.8 V6 Q1.3,9 0.2,10 M3.2,4.3 H8.8 M6,2.2 V9.3 M2.8,9.3 H9.7 M7.6,6.3 L8.6,7.4" transform="translate(561.0,336.4) scale(0.880,1.410)" vector-effect="non-scaling-stroke" stroke-width="2.0"/>
<path d="M0.3,1.8 H4 M2.5,0 L1,5.5 H4 M2.8,3.2 V10 M0.3,7.5 H4.3 M7.2,0 L4.6,3 M7.2,0 L9.8,3 M5.6,3.3 H8.7 M4.9,4.5 H6.8 V9.8 M4.9,4.5 V10 M4.9,6 H6.8 M4.9,7.6 H6.8 M8,5 V8.2 M9.5,4.3 V9.8 L8.8,9.5" transform="translate(551.0,353.4) scale(0.880,1.320)" vector-effect="non-scaling-stroke" stroke-width="2.0"/>
<path d="M5,0.3 V9.7 M1.5,1.5 V4.5 H8.5 V1.5 M0.8,5.5 V9.7 H9.2 V5.5" transform="translate(561.0,353.4) scale(0.880,1.320)" vector-effect="non-scaling-stroke" stroke-width="2.0"/>
<text x="503.1" y="400.1" font-size="12.06" textLength="8.2" lengthAdjust="spacingAndGlyphs" class="t">15</text>
<path d="M5,0.3 L0.5,4.5 M5,0.3 L9.5,4.5 M5,3.5 V10" transform="translate(512.5,388.3) scale(1.140,1.420)" vector-effect="non-scaling-stroke" stroke-width="1.6"/>
<text x="500.3" y="414.7" font-size="13.24" textLength="25.2" lengthAdjust="spacingAndGlyphs" class="t">560μF</text>
<text x="501.9" y="427.3" font-size="11.32" textLength="21.2" lengthAdjust="spacingAndGlyphs" class="t">450V</text>
<path d="M1.8,1 V8 M0.2,4 H3.6 M0.2,8.8 L3.8,7.4 M4.4,3.4 L9.6,2.4 V6.2 L8.8,5.8 M6.4,0.8 V7.5 M4.6,2 V8.6 Q4.6,9.8 6,9.8 H9.7 V8.6" transform="translate(551.9,488.3) scale(0.990,1.450)" vector-effect="non-scaling-stroke" stroke-width="2.0"/>
</g>
<g class="wm" style="mix-blend-mode:multiply">
<path d="M4.2,0 L4.5,1.1 M1.2,3.0 V1.6 H8.2 V2.7 M3.75,2.7 L2.5,4.1 M6.3,2.7 L7.6,4.1 M5.0,3.6 L0.2,7.3 M5.0,3.6 L9.9,6.95 M2.95,7.0 H6.75 V9.5 H2.95 Z" transform="translate(178.0,232.0) scale(7.600,7.400)" vector-effect="non-scaling-stroke" stroke="url(#gb)" stroke-width="9" stroke-linecap="butt" stroke-linejoin="miter" fill="none"/>
<path d="M1.35,1.1 L2.16,1.76 M0.27,3.1 L1.5,4.1 M0.58,8.2 L2.27,5.6 M3.2,0.95 H9.65 M3.9,0.95 V5.5 Q3.9,8.5 2.3,9.9 M6.1,1.6 L5.8,2.5 M6.5,5.6 V9.5 L6.0,9.3 M4.3,7.5 L3.2,8.8 M7.5,6.5 L9.2,8.2" transform="translate(258.0,232.0) scale(7.400,7.400)" vector-effect="non-scaling-stroke" stroke="url(#gb)" stroke-width="8.5" stroke-linecap="butt" stroke-linejoin="miter" fill="none"/>
<path d="M4.35,2.85 H8.0 V5.4 H4.35 Z M4.35,4.12 H8.0" transform="translate(258.0,232.0) scale(7.400,7.400)" vector-effect="non-scaling-stroke" stroke="url(#gb)" stroke-width="5.5" stroke-linecap="butt" stroke-linejoin="miter" fill="none"/>
<path d="M0.7,2.33 H7.8 V8.3 H0.7 Z M0.7,5.42 H7.8 M4.23,0.2 V8.6 Q4.23,9.77 5.5,9.77 H9.6 V8.7" transform="translate(345.0,258.0) scale(3.000,4.300)" vector-effect="non-scaling-stroke" stroke="#f6d0ae" stroke-width="3.6" stroke-linecap="butt" stroke-linejoin="miter" fill="none"/>
<path d="M1.7,1.05 H7.6 L4.85,2.9 M5.24,2.7 V8.9 Q5.24,9.6 3.2,8.8 M0.1,4.9 H9.76" transform="translate(376.0,260.0) scale(3.300,4.200)" vector-effect="non-scaling-stroke" stroke="#f6d0ae" stroke-width="3.6" stroke-linecap="butt" stroke-linejoin="miter" fill="none"/>
<path d="M1.07,9.86 V0.98 H8.75 V9.0 Q8.75,9.6 7.14,9.43 M2.86,2.5 L5.36,7.5 M5.36,2.5 L2.5,7.95 M5.5,2.5 L7.86,7.5 M7.86,2.5 L5.36,7.95" transform="translate(413.0,260.0) scale(2.800,4.400)" vector-effect="non-scaling-stroke" stroke="#f6d0ae" stroke-width="3.6" stroke-linecap="butt" stroke-linejoin="miter" fill="none"/>
<text x="179.4" y="343.6" font-size="44.5" font-weight="bold" textLength="263.6" lengthAdjust="spacingAndGlyphs" fill="#afd2bc" font-family="Liberation Sans, sans-serif">www.dziuu.com</text>
</g>
</svg>
</body></html>
